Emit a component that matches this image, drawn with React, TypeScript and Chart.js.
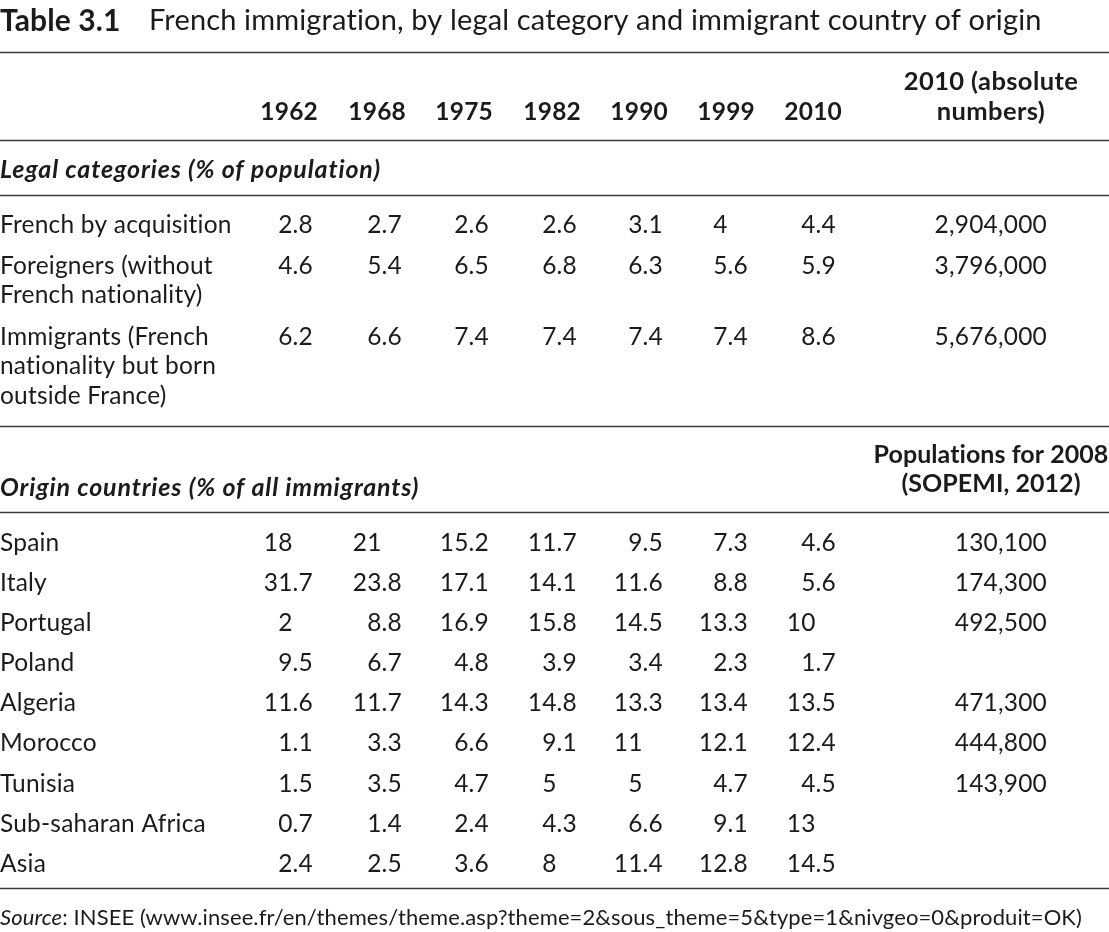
import React, { useEffect, useRef } from "react";
import { Chart, registerables } from "chart.js";

Chart.register(...registerables);

// ---------- DATA ----------
const tableLabel = "Table 3.1";
const tableTitle = "French immigration, by legal category and immigrant country of origin";
const years = ["1962", "1968", "1975", "1982", "1990", "1999", "2010"];
const absoluteHeader = ["2010 (absolute", "numbers)"];
const legalHeader = "Legal categories (% of population)";
const legalCategories = [
  ["French by acquisition"],
  ["Foreigners (without", "French nationality)"],
  ["Immigrants (French", "nationality but born", "outside France)"],
];
const frenchByAcquisition = [2.8, 2.7, 2.6, 2.6, 3.1, 4, 4.4];
const foreigners = [4.6, 5.4, 6.5, 6.8, 6.3, 5.6, 5.9];
const immigrants = [6.2, 6.6, 7.4, 7.4, 7.4, 7.4, 8.6];
const legalAbsolute = ["2,904,000", "3,796,000", "5,676,000"];

const originHeader = "Origin countries (% of all immigrants)";
const populationsHeader = ["Populations for 2008", "(SOPEMI, 2012)"];
const originCountries = [
  "Spain", "Italy", "Portugal", "Poland", "Algeria", "Morocco", "Tunisia", "Sub-saharan Africa", "Asia",
];
const spain = [18, 21, 15.2, 11.7, 9.5, 7.3, 4.6];
const italy = [31.7, 23.8, 17.1, 14.1, 11.6, 8.8, 5.6];
const portugal = [2, 8.8, 16.9, 15.8, 14.5, 13.3, 10];
const poland = [9.5, 6.7, 4.8, 3.9, 3.4, 2.3, 1.7];
const algeria = [11.6, 11.7, 14.3, 14.8, 13.3, 13.4, 13.5];
const morocco = [1.1, 3.3, 6.6, 9.1, 11, 12.1, 12.4];
const tunisia = [1.5, 3.5, 4.7, 5, 5, 4.7, 4.5];
const subSaharanAfrica = [0.7, 1.4, 2.4, 4.3, 6.6, 9.1, 13];
const asia = [2.4, 2.5, 3.6, 8, 11.4, 12.8, 14.5];
const populations2008 = ["130,100", "174,300", "492,500", "", "471,300", "444,800", "143,900", "", ""];
const sourceLabel = "Source";
const sourceText = ": INSEE (www.insee.fr/en/themes/theme.asp?theme=2&sous_theme=5&type=1&nivgeo=0&produit=OK)";

const legalValues = [frenchByAcquisition, foreigners, immigrants];
const originValues = [spain, italy, portugal, poland, algeria, morocco, tunisia, subSaharanAfrica, asia];

// ---------- LAYOUT (page units, mapped through the chart's scales) ----------
const W = 1109;
const H = 932;
const FONT = "Lato";
const BODY = 24.5;
const TEXT = "#1b1b1b";
const RULE = "#3a3a3a";
const colRight = [313, 402, 489, 577, 663, 748, 836];
const yearRight = [318, 406, 493, 581, 668, 755, 842];
const lastRight = 1047;
const lastCenter = 991;
const rules = [52.5, 140.5, 195.5, 426.5, 512.5, 888.5];
const titleY = 21;
const titleTextX = 149;
const headY = [82, 112];
const legalHeadY = 170;
const legalRowY = [225, 266, 337];
const lineStep = 29.5;
const popHeadY = [455, 484];
const originHeadY = 488;
const originRowY0 = 543;
const originStep = 40.1;
const sourceY = 918;
const sourceWidth = 1082;

const tablePlugin = {
  id: "tablePlugin",
  afterDraw(chart: any) {
    const ctx: any = chart.ctx;
    const sx = chart.scales.x;
    const sy = chart.scales.y;
    const X = (v: number) => sx.getPixelForValue(v);
    const Y = (v: number) => sy.getPixelForValue(v);
    ctx.save();
    ctx.fillStyle = TEXT;
    ctx.textBaseline = "middle";

    const setFont = (size: number, weight = "normal", style = "normal", spacing = 0.2) => {
      ctx.font = `${style} ${weight} ${size}px ${FONT}`;
      ctx.letterSpacing = `${spacing}px`;
    };
    const text = (s: string, x: number, y: number, align: CanvasTextAlign) => {
      ctx.textAlign = align;
      ctx.fillText(s, X(x), Y(y));
    };
    const decimal = (v: number, right: number, y: number) => {
      const s = String(v);
      const anchor = X(right) - ctx.measureText(".0").width;
      const parts = s.split(".");
      ctx.textAlign = "right";
      ctx.fillText(parts[0], anchor, Y(y));
      if (parts.length > 1) {
        ctx.textAlign = "left";
        ctx.fillText("." + parts[1], anchor, Y(y));
      }
    };

    // rules
    ctx.strokeStyle = RULE;
    ctx.lineWidth = 1.6;
    rules.forEach((r) => {
      ctx.beginPath();
      ctx.moveTo(X(0), Y(r));
      ctx.lineTo(X(W), Y(r));
      ctx.stroke();
    });

    // title
    setFont(30, "bold", "normal", 0.1);
    text(tableLabel, 0, titleY, "left");
    setFont(29, "normal", "normal", 0.15);
    text(tableTitle, titleTextX, titleY, "left");

    // column header
    setFont(BODY, "bold", "normal", 0.2);
    years.forEach((yr, i) => text(yr, yearRight[i], headY[1], "right"));
    setFont(25.5, "bold", "normal", 0.4);
    absoluteHeader.forEach((s, i) => text(s, lastCenter, headY[i], "center"));

    // legal section
    setFont(25, "bold", "italic", 0.85);
    text(legalHeader, 0, legalHeadY, "left");
    legalCategories.forEach((lines, r) => {
      setFont(BODY);
      lines.forEach((l, k) => text(l, 0, legalRowY[r] + k * lineStep, "left"));
      legalValues[r].forEach((v, c) => decimal(v, colRight[c], legalRowY[r]));
      text(legalAbsolute[r], lastRight, legalRowY[r], "right");
    });

    // origin section
    setFont(25, "bold", "italic", 0.85);
    text(originHeader, 0, originHeadY, "left");
    setFont(25, "bold", "normal", 0.05);
    populationsHeader.forEach((s, i) => text(s, lastCenter, popHeadY[i], "center"));
    setFont(BODY);
    originCountries.forEach((name, r) => {
      const y = originRowY0 + r * originStep;
      text(name, 0, y, "left");
      originValues[r].forEach((v, c) => decimal(v, colRight[c], y));
      if (populations2008[r]) text(populations2008[r], lastRight, y, "right");
    });

    // source
    setFont(21, "normal", "italic", 0.1);
    const w1 = ctx.measureText(sourceLabel).width;
    setFont(21, "normal", "normal", 0.1);
    const w2 = ctx.measureText(sourceText).width;
    const k = (X(sourceWidth) - X(0)) / (w1 + w2);
    ctx.save();
    ctx.translate(X(0), Y(sourceY));
    ctx.scale(k, 1);
    ctx.textAlign = "left";
    setFont(21, "normal", "italic", 0.1);
    ctx.fillText(sourceLabel, 0, 0);
    setFont(21, "normal", "normal", 0.1);
    ctx.fillText(sourceText, w1, 0);
    ctx.restore();

    ctx.restore();
  },
};

export default function App() {
  const ref = useRef<HTMLCanvasElement | null>(null);
  useEffect(() => {
    document.body.style.margin = "0";
    document.body.style.background = "#ffffff";
    if (!ref.current) return;
    const chart = new Chart(ref.current, {
      type: "scatter",
      data: { datasets: [{ data: [], pointRadius: 0 }] },
      options: {
        responsive: false,
        animation: false,
        events: [],
        layout: { padding: 0 },
        plugins: { legend: { display: false }, tooltip: { enabled: false }, title: { display: false } },
        scales: {
          x: { type: "linear", min: 0, max: W, display: false },
          y: { type: "linear", min: 0, max: H, reverse: true, display: false },
        },
      },
      plugins: [tablePlugin],
    });
    return () => chart.destroy();
  }, []);
  return (
    <div style={{ width: W, height: H, background: "#fff" }}>
      <canvas ref={ref} width={W} height={H} style={{ display: "block" }} />
    </div>
  );
}
